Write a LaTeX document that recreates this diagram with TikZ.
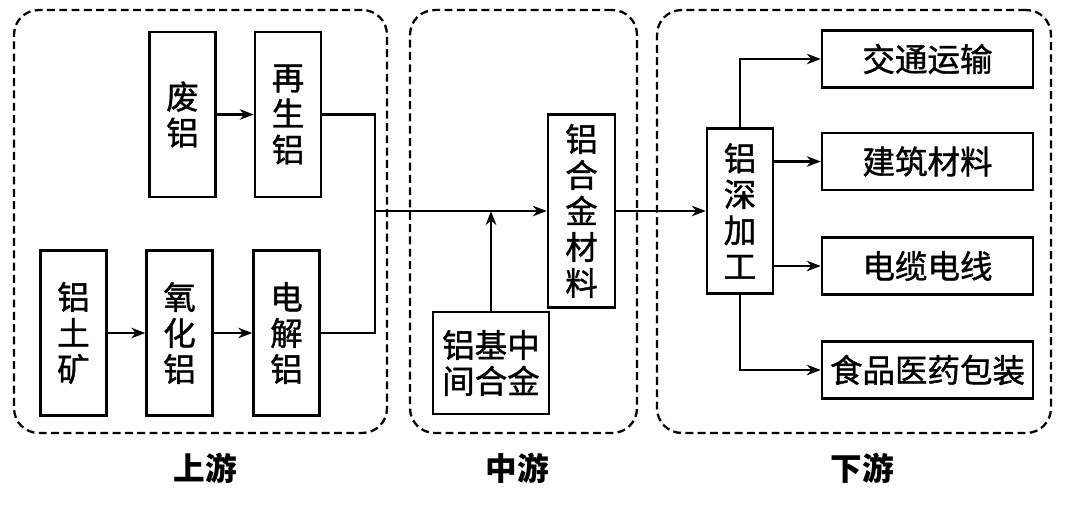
\documentclass[tikz,border=0pt]{standalone}
\usepackage{fontspec}
\setmainfont{Noto Sans CJK SC}
\newfontfamily\boxfont{Noto Sans CJK SC}[FakeBold=1.2]
\usetikzlibrary{arrows.meta}

\begin{document}
\begin{tikzpicture}[
    x=0.02cm, y=-0.02cm,
    box/.style={
        draw=black,
        line width=1.4pt,
        inner sep=0pt,
        align=center,
        font=\boxfont\fontsize{18.5}{20.5}\selectfont
    },
    tall/.style={box, minimum width=1.32cm, minimum height=3.3cm},
    wide/.style={box, minimum width=4.22cm, minimum height=1.14cm},
    group/.style={
        draw=black,
        line width=1.3pt,
        dash pattern=on 4.5pt off 2.5pt,
        rounded corners=14pt,
        minimum height=8.46cm
    },
    link/.style={line width=1.2pt},
    flow/.style={line width=1.2pt, -{Stealth[length=8pt,width=6pt]}},
    tag/.style={font=\fontsize{18}{20}\selectfont\bfseries}
]
    \useasboundingbox (0,0) rectangle (1080,507);

    % groups
    \node[group, minimum width=7.46cm] (upper) at (200.5,221.5) {};
    \node[group, minimum width=4.54cm] (middle) at (523.5,221.5) {};
    \node[group, minimum width=7.88cm] (lower) at (854,221.5) {};

    % upstream
    \node[tall] (feilv) at (182.5,114.5) {废\\铝};
    \node[tall] (zaisheng) at (288,114.5) {再\\生\\铝};
    \node[tall] (tukuang) at (73.5,333) {铝\\土\\矿};
    \node[tall] (yanghua) at (179.5,333) {氧\\化\\铝};
    \node[tall] (dianjie) at (286.5,333) {电\\解\\铝};

    % midstream
    \node[box, minimum width=1.34cm, minimum height=3.86cm] (hejin) at (581.5,211) {铝\\合\\金\\材\\料};
    \node[box, minimum width=2.32cm, minimum height=2.04cm] (zhongjian) at (491,363) {铝基中\\间合金};

    % downstream
    \node[tall] (shen) at (740,211) {铝\\深\\加\\工};
    \node[wide] (jiaotong) at (927.5,59) {交通运输};
    \node[wide] (jianzhu) at (927.5,161.5) {建筑材料};
    \node[wide] (dianlan) at (927.5,266) {电缆电线};
    \node[wide] (shipin) at (927.5,370) {食品医药包装};

    \node[tag] (shangyou) at (205,468) {上游};
    \node[tag] (zhongyou) at (517,468) {中游};
    \node[tag] (xiayou) at (862,468) {下游};

    % connectors
    \coordinate (join) at (375,211);
    \draw[flow] (feilv) -- (zaisheng);
    \draw[flow] (tukuang) -- (yanghua);
    \draw[flow] (yanghua) -- (dianjie);
    \draw[link] (zaisheng.east) -| (join) |- (dianjie.east);
    \draw[flow] (join) -- (hejin.west);
    \draw[flow] (zhongjian.north) -- (zhongjian.north |- join);
    \draw[flow] (hejin.east) -- (shen.west);
    \draw[flow] (shen.north) |- (jiaotong.west);
    \draw[flow] (shen.east |- jianzhu) -- (jianzhu.west);
    \draw[flow] (shen.east |- dianlan) -- (dianlan.west);
    \draw[flow] (shen.south) |- (shipin.west);
\end{tikzpicture}
\end{document}
